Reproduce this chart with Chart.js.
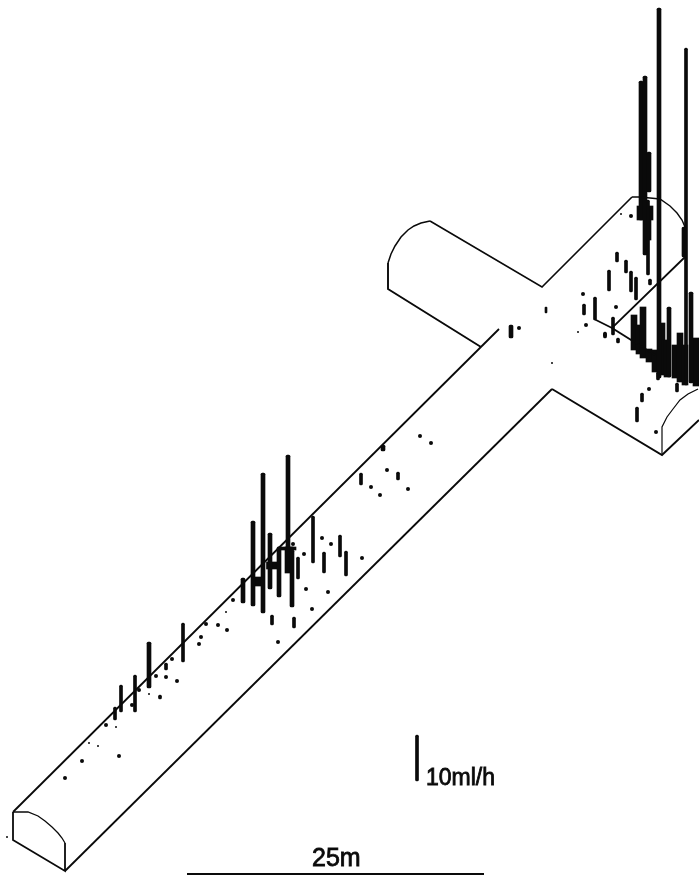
<!DOCTYPE html>
<html>
<head>
<meta charset="utf-8">
<style>html,body{margin:0;padding:0;background:#fff}canvas{display:block}</style>
<script src="https://cdn.jsdelivr.net/npm/chart.js@4"></script>
</head>
<body>
<canvas id="c" width="699" height="876"></canvas>
<script>
// Tunnel outline polylines, [x, y]
const tunnelUpperEdge = [[13,812],[499,329]];
const tunnelLowerEdge = [[65,871],[552,389]];
const nearEndFace = [[13,812],[13,840],[65,871],[65,843]];
const nearEndArc = [[13,812],[28,812],[38,816],[45,821],[52,827],[58,833],[62,838],[65,843]];
const leftArmLower = [[481,347],[388,289],[388,263]];
const leftArmArc = [[388,263],[391,254],[395,246],[401,237],[408,230],[414,226],[421,223],[430,221]];
const leftArmUpper = [[430,221],[542,287],[632,197]];
const farArc = [[632,197],[640,197],[660,199],[670,206],[677,213],[682,220],[685,227],[685,257]];
const farFloor = [[685,257],[612,328],[594,319]];
const farFloor2 = [[612,328],[655,355]];
const rightArmLower = [[552,389],[662,455],[699,420]];
const rightEndFace = [[662,455],[662,427],[667,417],[673,409],[680,400],[688,394],[698,389]];
const scaleBar = [[187,874],[484,874]];

// Vertical leak-rate bars [x, top, bottom] grouped by stroke class
const bars2 = [[546,307,313]];
const bars3 = [[183,623,662],[135,675,712],[121,685,712],[115,707,720],[298,557,579],[313,516,563],[324,552,573],
  [340,535,557],[346,551,576],[361,473,485],[398,472,480],[272,615,625],[294,617,628],[160,695,699],[166,663,670],
  [617,252,262],[626,260,273],[609,270,291],[631,271,292],[636,277,300],[584,304,315],[595,297,320],[613,317,335],
  [605,332,338],[618,338,343],[658,372,380],[677,383,392],[642,393,402],[637,407,422],[686,48,385],[648,200,275],
  [650,279,285],[417,735,781]];
const bars4 = [[149,642,688],[288,455,572],[292,550,607],[263,473,613],[253,521,606],[270,533,589],[279,547,597],
  [243,578,603],[511,325,338],[659,8,378],[641,81,220],[645,76,255],[649,152,192],[669,307,377],[691,292,383],
  [684,227,257],[383,445,451]];
const bars6 = [[634,315,350],[639,325,354],[643,307,358],[649,349,362],[655,350,372],[662,323,375],[667,340,377],
  [675,345,378],[680,333,382],[685,345,385],[696,338,386],[648,220,240]];
const bars8 = [[289,547,573]];
const bars11 = [[257,577,586]];
const bars13 = [[273,562,569]];
const bars16 = [[645,206,220]];
const bars18 = [[287,547,550]];

// Isolated small readings [x, y]
const dotsLarge = [[420,436],[431,443],[387,470],[371,487],[380,495],[408,489],[233,600],[293,544],[322,538],[331,544],
  [362,558],[306,589],[328,592],[312,609],[278,642],[206,624],[218,625],[227,630],[201,637],[199,644],[172,659],
  [166,677],[156,676],[177,681],[139,690],[132,705],[106,725],[119,756],[82,761],[65,778],[519,328],[631,216],
  [583,294],[616,307],[586,325],[605,335],[649,389],[656,432],[304,554]];
const dotsSmall = [[226,612],[149,694],[116,727],[89,743],[98,746],[621,214],[660,237],[578,332],[552,363],[7,837]];

// Labels
const flowLabel = '10ml/h';
const lengthLabel = '25m';

const toXY = pts => pts.map(p => ({x:p[0], y:p[1]}));
const toBars = arr => arr.map(b => ({x:b[0], y:[b[1], b[2]]}));
const INK = '#0a0a0a';
const line = (pts, w) => ({type:'line', data:toXY(pts), borderColor:INK, borderWidth:w, pointRadius:0, fill:false, tension:0});
const bar = (arr, t) => ({type:'bar', data:toBars(arr), backgroundColor:INK, borderWidth:0, barThickness:t, grouped:false, borderSkipped:false, borderRadius:t<=4?1.5:0});
const dots = (pts, r) => ({type:'scatter', data:toXY(pts), backgroundColor:INK, borderWidth:0, pointRadius:r, showLine:false});

const labelPlugin = {
  id:'labels',
  afterDraw(chart){
    const {ctx, scales:{x, y}} = chart;
    ctx.save();
    ctx.fillStyle = INK; ctx.strokeStyle = INK; ctx.lineWidth = 0.8;
    ctx.textBaseline = 'alphabetic'; ctx.textAlign = 'left';
    ctx.font = '23px "Liberation Sans", Arial, sans-serif';
    ctx.fillText(flowLabel, x.getPixelForValue(426), y.getPixelForValue(785));
    ctx.strokeText(flowLabel, x.getPixelForValue(426), y.getPixelForValue(785));
    ctx.font = '25px "Liberation Sans", Arial, sans-serif';
    ctx.fillText(lengthLabel, x.getPixelForValue(312), y.getPixelForValue(866));
    ctx.strokeText(lengthLabel, x.getPixelForValue(312), y.getPixelForValue(866));
    ctx.restore();
  }
};

new Chart(document.getElementById('c'), {
  type:'bar',
  data:{datasets:[
    line(tunnelUpperEdge,1.8), line(tunnelLowerEdge,1.8), line(nearEndFace,1.8), line(nearEndArc,1.3),
    line(leftArmLower,1.9), line(leftArmArc,1.5), line(leftArmUpper,1.6), line(farArc,1.4), line(farFloor,1.8),
    line(farFloor2,1.9), line(rightArmLower,1.9), line(rightEndFace,1.2), line(scaleBar,1.8),
    bar(bars2,2), bar(bars3,3), bar(bars4,4), bar(bars6,6), bar(bars8,8), bar(bars11,11), bar(bars13,13),
    bar(bars16,16), bar(bars18,18),
    dots(dotsLarge,2), dots(dotsSmall,1)
  ]},
  options:{
    responsive:false, animation:false,
    layout:{padding:0, autoPadding:false},
    plugins:{legend:{display:false}, tooltip:{enabled:false}},
    scales:{
      x:{type:'linear', min:0, max:699, offset:false, display:false},
      y:{type:'linear', min:0, max:876, reverse:true, beginAtZero:false, display:false}
    }
  },
  plugins:[labelPlugin]
});
</script>
</body>
</html>
